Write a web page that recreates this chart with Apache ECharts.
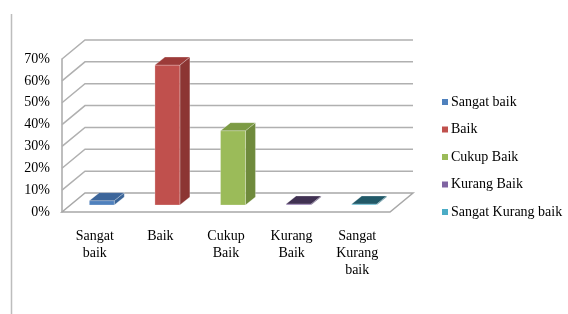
<!DOCTYPE html>
<html>
<head>
<meta charset="utf-8">
<script src="https://cdn.jsdelivr.net/npm/echarts@6/dist/echarts.min.js"></script>
<style>
  html, body { margin: 0; padding: 0; background: #fff; }
  #chart { width: 568px; height: 314px; }
</style>
</head>
<body>
<div id="chart"></div>
<script>
const categories = ['Sangat\nbaik', 'Baik', 'Cukup\nBaik', 'Kurang\nBaik', 'Sangat\nKurang\nbaik']
const seriesNames = ['Sangat baik', 'Baik', 'Cukup Baik', 'Kurang Baik', 'Sangat Kurang baik']
const values = [2, 64, 34, 0, 0]
const yTicks = [0, 10, 20, 30, 40, 50, 60, 70]

// colours: front, side, top
const faceColors = [
  ['#4F81BD', '#3A6497', '#3C659A'],
  ['#C0504D', '#8C3533', '#9C3B39'],
  ['#9BBB59', '#6F8A3C', '#7C9B44'],
  ['#8064A2', '#4F3C68', '#403152'],
  ['#4BACC6', '#2E7587', '#215968']
]

const DEPTH = [23, -19]     // back wall offset
const BAR_OFF = [7, -7]     // bar front face offset from front plane
const BAR_DEPTH = [10, -8]
const FONT = 'Liberation Serif'

const chart = echarts.init(document.getElementById('chart'))

// walls and floor
const renderWalls = (params, api) => {
  const t = api.value(1)
  const cs = params.coordSys
  const left = cs.x
  const right = cs.x + cs.width
  const y = api.coord([0, t])[1]
  const style = { stroke: '#b0b0b0', lineWidth: 1.5, fill: null }
  if (t === 0) {
    return {
      type: 'polygon',
      shape: { points: [[left, y], [right, y], [right + DEPTH[0], y + DEPTH[1]], [left + DEPTH[0], y + DEPTH[1]]] },
      style: { stroke: '#a8a8a8', lineWidth: 1.5, fill: '#fff' }
    }
  }
  return {
    type: 'polyline',
    shape: { points: [[left, y], [left + DEPTH[0], y + DEPTH[1]], [right + DEPTH[0], y + DEPTH[1]]] },
    style
  }
}

const makeBarRender = (cols) => (params, api) => {
  const i = api.value(0)
  const v = api.value(1)
  const base = api.coord([i, 0])
  const top = api.coord([i, v])
  const w = api.size([1, 0])[0] * 0.38
  const x0 = base[0] - w / 2 + BAR_OFF[0]
  const x1 = x0 + w
  const yb = base[1] + BAR_OFF[1]
  let yt = top[1] + BAR_OFF[1]
  if (yb - yt < 1) yt = yb - 1
  const edge = 'rgba(255,255,255,0.5)'
  return {
    type: 'group',
    children: [
      {
        type: 'polygon',
        shape: { points: [[x1, yt], [x1 + BAR_DEPTH[0], yt + BAR_DEPTH[1]], [x1 + BAR_DEPTH[0], yb + BAR_DEPTH[1]], [x1, yb]] },
        style: { fill: cols[1], stroke: edge, lineWidth: 0.5 }
      },
      {
        type: 'rect',
        shape: { x: x0, y: yt, width: w, height: yb - yt },
        style: { fill: cols[0], stroke: edge, lineWidth: 0.5 }
      },
      {
        type: 'polygon',
        shape: { points: [[x0, yt], [x1, yt], [x1 + BAR_DEPTH[0], yt + BAR_DEPTH[1]], [x0 + BAR_DEPTH[0], yt + BAR_DEPTH[1]]] },
        style: { fill: cols[2], stroke: edge, lineWidth: 0.5 }
      }
    ]
  }
}

const barSeries = seriesNames.map((name, i) => ({
  name: name,
  type: 'custom',
  renderItem: makeBarRender(faceColors[i]),
  itemStyle: { color: faceColors[i][0] },
  encode: { x: 0, y: 1 },
  data: [[i, values[i]]],
  z: 3
}))

const options = {
  animation: false,
  grid: { left: 62, right: 178, top: 59, bottom: 102 },
  xAxis: {
    type: 'category',
    data: categories,
    axisLine: { show: false },
    axisTick: { show: false },
    axisLabel: { color: '#000', fontFamily: FONT, fontSize: 14, lineHeight: 17, margin: 16 }
  },
  yAxis: {
    type: 'value',
    min: 0,
    max: 70,
    interval: 10,
    axisLine: { show: true, lineStyle: { color: '#a8a8a8', width: 1.5 } },
    axisTick: { show: false },
    splitLine: { show: false },
    axisLabel: { color: '#000', fontFamily: FONT, fontSize: 14, margin: 12, formatter: '{value}%' }
  },
  legend: {
    data: seriesNames,
    orient: 'vertical',
    left: 437,
    top: 90,
    icon: 'rect',
    itemWidth: 6,
    itemHeight: 6,
    itemGap: 13.5,
    textStyle: { color: '#000', fontFamily: FONT, fontSize: 14, lineHeight: 14, padding: [0, 0, 0, -2] }
  },
  graphic: [{
    type: 'line',
    shape: { x1: 11.5, y1: 14, x2: 11.5, y2: 314 },
    style: { stroke: '#bdbdbd', lineWidth: 1.5 }
  }],
  series: [{
    name: 'walls',
    type: 'custom',
    renderItem: renderWalls,
    encode: { x: 0, y: 1 },
    data: yTicks.map(t => [0, t]),
    silent: true,
    z: 1
  }].concat(barSeries)
}
chart.setOption(options)
</script>
</body>
</html>
